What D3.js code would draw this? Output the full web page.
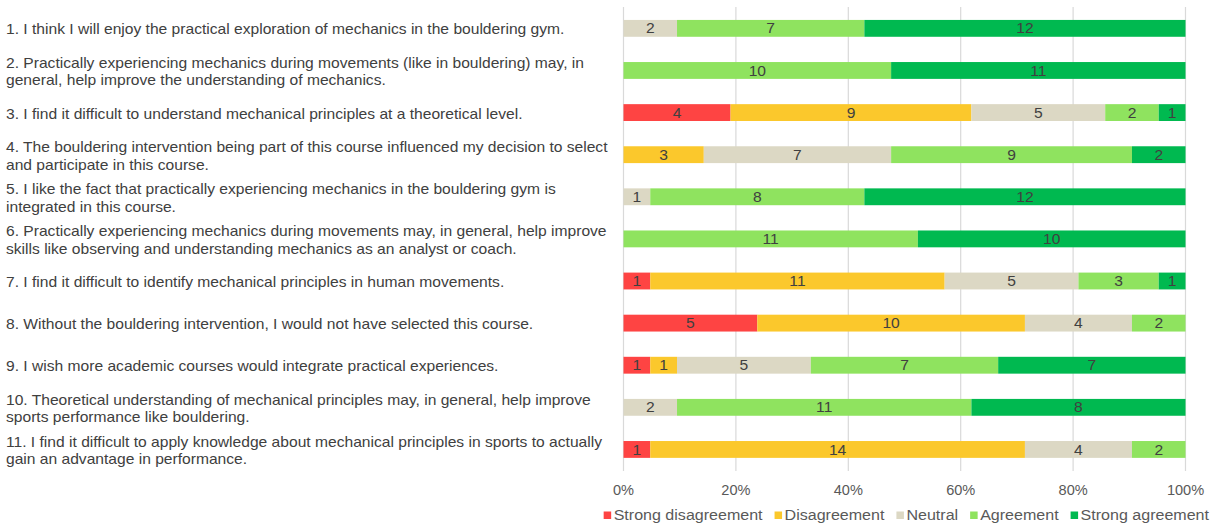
<!DOCTYPE html>
<html>
<head>
<meta charset="utf-8">
<script src="https://cdn.jsdelivr.net/npm/d3@7"></script>
<style>
  html, body { margin: 0; padding: 0; background: #fff; }
  svg { display: block; }
  text { font-family: "Liberation Sans", Arial, sans-serif; }
</style>
</head>
<body>
<svg id="chart" width="1211" height="523"></svg>
<script>
const categories = [
  ["1. I think  I will  enjoy the practical exploration of mechanics in the bouldering gym."],
  ["2. Practically experiencing mechanics during movements (like in bouldering) may, in", "general, help improve the understanding of mechanics."],
  ["3. I find it difficult to understand mechanical principles at a theoretical level."],
  ["4. The bouldering intervention being part of this course influenced my decision to select", "and participate in this course."],
  ["5. I like the fact that practically experiencing mechanics in the bouldering gym is", "integrated in this course."],
  ["6. Practically experiencing mechanics during movements may, in general, help improve", "skills like observing and understanding mechanics as an analyst or coach."],
  ["7. I find it difficult to identify mechanical principles in human movements."],
  ["8. Without the bouldering intervention, I would not have selected this course."],
  ["9. I wish more academic courses would integrate practical experiences."],
  ["10. Theoretical understanding of mechanical principles may, in general, help improve", "sports performance like bouldering."],
  ["11. I find it difficult to apply knowledge about mechanical principles in sports to actually", "gain an advantage in performance."]
];
const seriesNames = ["Strong disagreement", "Disagreement", "Neutral", "Agreement", "Strong agreement"];
const strongDisagreement = [0, 0, 4, 0, 0, 0, 1, 5, 1, 0, 1];
const disagreement       = [0, 0, 9, 3, 0, 0, 11, 10, 1, 0, 14];
const neutral            = [2, 0, 5, 7, 1, 0, 5, 4, 5, 2, 4];
const agreement          = [7, 10, 2, 9, 8, 11, 3, 2, 7, 11, 2];
const strongAgreement    = [12, 11, 1, 2, 12, 10, 1, 0, 7, 8, 0];
const tickValues = [0, 0.2, 0.4, 0.6, 0.8, 1];
const colors = ["#FE4443", "#FBC82C", "#DCD8C4", "#8FE35F", "#00B950"];

const seriesArrays = [strongDisagreement, disagreement, neutral, agreement, strongAgreement];
const rows = categories.map((c, i) => {
  const r = { idx: i };
  seriesNames.forEach((s, k) => r[s] = seriesArrays[k][i]);
  return r;
});

const stretch = 1.1;
const svg = d3.select("#chart");
const x = d3.scaleLinear().domain([0, 1]).range([623.5, 1185.5]);
const y = d3.scaleBand().domain(d3.range(categories.length)).range([7.3, 470.5])
  .paddingInner(0.6).paddingOuter(0.3);
const color = d3.scaleOrdinal().domain(seriesNames).range(colors);

// gridlines
svg.append("g").selectAll("line").data(tickValues).join("line")
  .attr("x1", d => x(d)).attr("x2", d => x(d))
  .attr("y1", 7).attr("y2", 471)
  .attr("stroke", "#D9D9D9").attr("stroke-width", 1.2);

const stack = d3.stack().keys(seriesNames).offset(d3.stackOffsetExpand);
const stacked = stack(rows);

const gBars = svg.append("g");
stacked.forEach(layer => {
  const g = gBars.append("g").attr("fill", color(layer.key));
  g.selectAll("rect").data(layer.filter(d => d[1] - d[0] > 0)).join("rect")
    .attr("x", d => x(d[0]))
    .attr("width", d => x(d[1]) - x(d[0]))
    .attr("y", d => y(d.data.idx))
    .attr("height", y.bandwidth());
});
stacked.forEach(layer => {
  gBars.append("g").selectAll("text").data(layer.filter(d => d.data[layer.key] > 0)).join("text")
    .attr("transform", d => `translate(${(x(d[0]) + x(d[1])) / 2},${y(d.data.idx) + y.bandwidth() / 2}) scale(${stretch},1)`)
    .attr("dy", "0.36em")
    .attr("text-anchor", "middle")
    .attr("font-size", 14.2)
    .attr("fill", "#404040")
    .text(d => d.data[layer.key]);
});

// category labels
const lh = 17.5;
const gLab = svg.append("g").attr("transform", `translate(6,0) scale(${stretch},1)`);
categories.forEach((lines, i) => {
  const cy = y(i) + y.bandwidth() / 2 + 1;
  const t = gLab.append("text")
    .attr("x", 0)
    .attr("font-size", 14.2)
    .attr("fill", "#404040");
  lines.forEach((ln, j) => {
    t.append("tspan")
      .attr("x", 0)
      .attr("y", cy + (j - (lines.length - 1) / 2) * lh)
      .attr("dy", "0.36em")
      .text(ln);
  });
});

// x axis labels
svg.append("g").selectAll("text").data(tickValues).join("text")
  .attr("transform", d => `translate(${x(d)},490) scale(1.04,1)`)
  .attr("dy", "0.36em")
  .attr("text-anchor", "middle")
  .attr("font-size", 14)
  .attr("fill", "#595959")
  .text(d3.format(".0%"));

// legend
const leg = svg.append("g");
let cx = 0;
seriesNames.forEach((s, k) => {
  const g = leg.append("g");
  g.append("rect").attr("x", 0).attr("y", -3.5).attr("width", 7.5).attr("height", 7.5).attr("fill", colors[k]);
  const t = g.append("text").attr("transform", `translate(10,0) scale(${stretch},1)`).attr("dy", "0.36em")
    .attr("font-size", 14.6).attr("fill", "#595959").text(s);
  const w = t.node().getComputedTextLength() * stretch;
  g.attr("transform", `translate(${cx},515)`);
  cx += 10 + w + 12;
});
const total = cx - 12;
leg.attr("transform", `translate(${1209 - total},0)`);
</script>
</body>
</html>
